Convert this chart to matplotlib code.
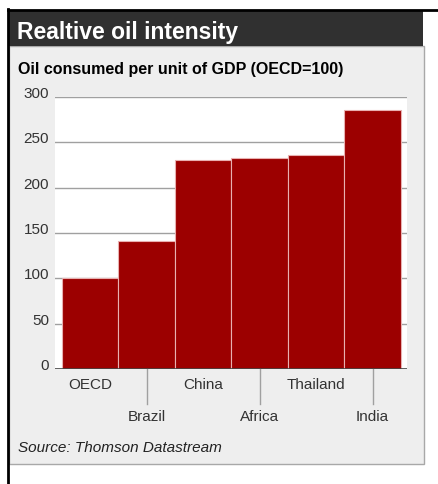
import matplotlib.pyplot as plt
from matplotlib.patches import Rectangle
from matplotlib.lines import Line2D
from matplotlib.transforms import blended_transform_factory, offset_copy

countries = ['OECD', 'Brazil', 'China', 'Africa', 'Thailand', 'India']
intensity = [100, 141, 231, 233, 236, 286]
yticks = [0, 50, 100, 150, 200, 250, 300]

W, H = 438, 485
FONT = 'Liberation Sans'


def px(x0, y0, x1, y1):
    # pixel box (top-left origin) -> figure fraction rect
    return [x0 / W, 1 - y1 / H, (x1 - x0) / W, (y1 - y0) / H]


fig = plt.figure(figsize=(W / 100, H / 100), dpi=100)
fig.patch.set_facecolor('white')

# panel, header and frame lines (kept beneath the axes)
fig.add_artist(Rectangle((9 / W, 1 - 465 / H), 415 / W, 418 / H, transform=fig.transFigure,
                         facecolor='#eeeeee', edgecolor='#a8a8a8', lw=1, zorder=-10))
fig.add_artist(Rectangle((9 / W, 1 - 47 / H), 414 / W, 35 / H, transform=fig.transFigure,
                         facecolor='#303030', edgecolor='none', zorder=-9))
fig.add_artist(Line2D([8 / W, 8 / W], [0, 1 - 10 / H], transform=fig.transFigure,
                      color='black', lw=2, zorder=-8))
fig.add_artist(Line2D([8 / W, 1], [1 - 11 / H, 1 - 11 / H], transform=fig.transFigure,
                      color='black', lw=2, zorder=-8))

fig.text(17 / W, 1 - 33 / H, 'Realtive oil intensity', color='white', fontsize=16.5,
         fontweight='bold', family=FONT, va='center', ha='left')
fig.text(18 / W, 1 - 70 / H, 'Oil consumed per unit of GDP (OECD=100)', color='black',
         fontsize=11.5, fontweight='bold', family=FONT, va='center', ha='left')
fig.text(18 / W, 1 - 448 / H, 'Source: Thomson Datastream', color='#222222', fontsize=11,
         style='italic', family=FONT, va='center', ha='left')

ax = fig.add_axes(px(55, 98, 407, 370))
ax.set_facecolor('white')
ax.set_xlim(-0.62, 5.61)
ax.set_ylim(0, 300)

for v in yticks[1:]:
    ax.axhline(v, color='#a0a0a0', lw=1, zorder=1)

ax.bar(range(len(countries)), intensity, width=1.0, color='#9c0000',
       edgecolor='#e8b0b0', linewidth=0.8, zorder=2)

for s in ax.spines.values():
    s.set_visible(False)
ax.axhline(0, color='#444444', lw=1.2, zorder=3)
ax.set_xticks([])
ax.set_yticks([])

# y labels sit just above their grid lines
ytr = offset_copy(ax.get_yaxis_transform(), fig=fig, x=-6, y=4, units='dots')
for v in yticks:
    ax.text(0, v, str(v), transform=ytr, ha='right', va='center', fontsize=11,
            family=FONT, color='#333333')

# staggered country labels with separator ticks under the lower row
xtr = blended_transform_factory(ax.transData, ax.transAxes)
for i, name in enumerate(countries):
    low = i % 2 == 1
    dy = -47 if low else -15
    ttr = offset_copy(xtr, fig=fig, x=0, y=dy, units='dots')
    ax.text(i, 0, name, transform=ttr, ha='center', va='center', fontsize=11,
            family=FONT, color='#333333')
    if low:
        ax.plot([i, i], [0, -35 / 272], transform=xtr, color='#a0a0a0', lw=1,
                clip_on=False)

fig.savefig('out.png', dpi=100)
